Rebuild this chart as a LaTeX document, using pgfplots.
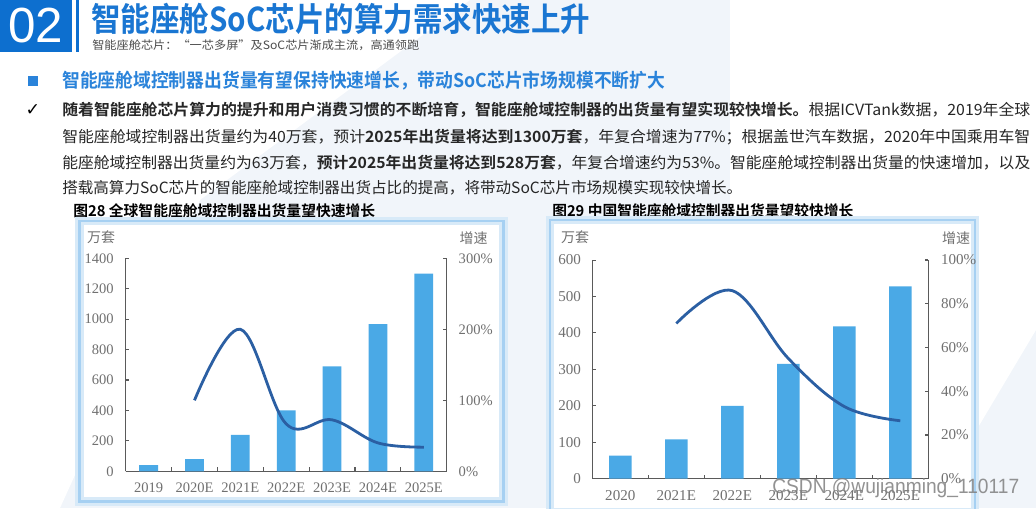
\documentclass[border=0pt]{standalone}
\usepackage{pgfplots}
\pgfplotsset{compat=1.18}
\usepackage{graphicx}
\usepackage{fontspec}
\setmainfont{Liberation Serif}
\newfontfamily\cjk{Noto Sans CJK SC}[BoldFont={Noto Sans CJK SC Bold}]
\newfontfamily\arial{Liberation Sans}
\newfontfamily\dejavu{DejaVu Sans}
\newlength{\pxu}\setlength{\pxu}{0.75pt}
\definecolor{hdrblue}{HTML}{0D6FCF}
\definecolor{ttlblue}{HTML}{1A76D2}
\definecolor{subblue}{HTML}{2A83DA}
\definecolor{barblue}{HTML}{4AA9E6}
\definecolor{linecol}{HTML}{2B5FA3}
\definecolor{axiscol}{HTML}{5A5A5A}
\definecolor{ticklab}{HTML}{707070}
\definecolor{framecol}{HTML}{A6D0F2}
\definecolor{glowcol}{HTML}{D8EAF8}
\definecolor{bg}{HTML}{F1F5FA}
\definecolor{bodytxt}{HTML}{262626}
\pgfplotsset{
  mybase/.style={
    scale only axis,
    /pgf/number format/assume math mode=true,
    /pgf/number format/1000 sep={},
    scaled ticks=false,
    tick label style={font=\fontsize{10.9pt}{12pt}\selectfont, text=ticklab},
    axis line style={draw=axiscol, line width=0.9pt},
    tick style={draw=axiscol, line width=0.8pt},
    tick align=inside,
    major tick length=2.5pt,
    minor tick length=3pt,
  }
}
\begin{document}
\begin{tikzpicture}[x=0.75pt,y=0.75pt]
\useasboundingbox (0,0) rectangle (1036,508);
\coordinate (c1) at (125.7,36.7);
\coordinate (c2) at (592.3,29.3);
\begin{scope}[y=-0.75pt, yshift=381pt]
% background
\fill[bg] (0,0) rectangle (1036,508);
\fill[white] (0,0) -- (470,0) -- (200,200) -- (60,508) -- (0,508) -- cycle;
\fill[white] (730,0) -- (1036,0) -- (1036,330) -- (930,508) -- (730,508) -- cycle;
% header
\fill[hdrblue] (0,0) rectangle (72,52);
\node[anchor=center, inner sep=0, text=white] at (36,26) {\arial\fontsize{37pt}{40pt}\selectfont 02};
\fill[hdrblue] (76,0) rectangle (78.7,52);
\node[anchor=west, inner sep=0, text=ttlblue] at (91,19) {\resizebox{499\pxu}{1.12\height}{\cjk\bfseries\fontsize{22pt}{24pt}\selectfont 智能座舱SoC芯片的算力需求快速上升}};
\node[anchor=west, inner sep=0, text=black!70] at (92,45.5) {\resizebox{327\pxu}{\height}{\cjk\fontsize{8.6pt}{10pt}\selectfont 智能座舱芯片：“一芯多屏”及SoC芯片渐成主流，高通领跑}};
% sub heading
\fill[subblue] (28,76) rectangle (38,86);
\node[anchor=west, inner sep=0, text=subblue] at (62,81) {\resizebox{603\pxu}{1.06\height}{\cjk\bfseries\fontsize{13.5pt}{15pt}\selectfont 智能座舱域控制器出货量有望保持快速增长，带动SoC芯片市场规模不断扩大}};
\node[anchor=center, inner sep=0, text=black] at (33,110) {\dejavu\fontsize{13pt}{14pt}\selectfont ✓};
% body
\node[anchor=west, inner sep=0, text=bodytxt] at (62,110) {\resizebox{968\pxu}{\height}{\cjk\fontsize{11.6pt}{13pt}\selectfont\textbf{随着智能座舱芯片算力的提升和用户消费习惯的不断培育，智能座舱域控制器的出货量有望实现较快增长。}根据ICVTank数据，2019年全球}};
\node[anchor=west, inner sep=0, text=bodytxt] at (62,137) {\resizebox{968\pxu}{\height}{\cjk\fontsize{11.6pt}{13pt}\selectfont 智能座舱域控制器出货量约为40万套，预计\textbf{2025年出货量将达到1300万套}，年复合增速为77\%；根据盖世汽车数据，2020年中国乘用车智}};
\node[anchor=west, inner sep=0, text=bodytxt] at (62,163) {\resizebox{968\pxu}{\height}{\cjk\fontsize{11.6pt}{13pt}\selectfont 能座舱域控制器出货量约为63万套，\textbf{预计2025年出货量将达到528万套}，年复合增速约为53\%。智能座舱域控制器出货量的快速增加，以及}};
\node[anchor=west, inner sep=0, text=bodytxt] at (62,188) {\resizebox{680\pxu}{\height}{\cjk\fontsize{11.6pt}{13pt}\selectfont 搭载高算力SoC芯片的智能座舱域控制器出货占比的提高，将带动SoC芯片市场规模实现较快增长。}};
% chart titles
\node[anchor=west, inner sep=0, text=black] at (73,211) {\resizebox{302\pxu}{\height}{\cjk\bfseries\fontsize{11.2pt}{12pt}\selectfont 图28\ 全球智能座舱域控制器出货量望快速增长}};
\node[anchor=west, inner sep=0, text=black] at (552,211) {\resizebox{301\pxu}{\height}{\cjk\bfseries\fontsize{11.2pt}{12pt}\selectfont 图29\ 中国智能座舱域控制器出货量望较快增长}};
% frames
\draw[glowcol, line width=6.5pt, fill=white] (79.3,221) rectangle (503.3,501.7);
\draw[framecol, line width=2.2pt] (79.3,221) rectangle (503.3,501.7);
\draw[glowcol, line width=6.5pt, fill=white] (550,220) rectangle (975,512);
\draw[framecol, line width=2.2pt] (550,220) rectangle (975,512);
% axis captions
\node[anchor=center, inner sep=0, text=ticklab] at (101,237) {\cjk\fontsize{10.5pt}{12pt}\selectfont 万套};
\node[anchor=center, inner sep=0, text=ticklab] at (473.5,238) {\cjk\fontsize{10.5pt}{12pt}\selectfont 增速};
\node[anchor=center, inner sep=0, text=ticklab] at (575,237) {\cjk\fontsize{10.5pt}{12pt}\selectfont 万套};
\node[anchor=center, inner sep=0, text=ticklab] at (956,238) {\cjk\fontsize{10.5pt}{12pt}\selectfont 增速};
\end{scope}
% chart 1
\begin{axis}[mybase,
  at={(c1)}, anchor=south west,
  width=240.75pt, height=159.75pt,
  xmin=-0.5, xmax=6.5, ymin=0, ymax=1400,
  axis lines*=left,
  ytick={0,200,...,1400},
  xtick={0,...,6},
  xticklabels={2019,2020E,2021E,2022E,2023E,2024E,2025E},
  major x tick style={draw=none},
  minor xtick={0.5,1.5,...,5.5},
  xticklabel style={yshift=-5pt},
  yticklabel style={xshift=-5.5pt},
]
\addplot[ybar, bar width=0.41, fill=barblue, draw=none] coordinates {(0,40) (1,80) (2,240) (3,400) (4,690) (5,968) (6,1300)};
\end{axis}
\begin{axis}[mybase,
  at={(c1)}, anchor=south west,
  width=240.75pt, height=159.75pt,
  xmin=-0.5, xmax=6.5, ymin=0, ymax=300,
  axis y line*=right, axis x line=none,
  ytick={0,100,200,300},
  yticklabels={0\%,100\%,200\%,300\%},
  yticklabel style={xshift=5.5pt},
]
\addplot[smooth, tension=0.6, line width=2.1pt, color=linecol] coordinates {(1,100) (2,200) (3,66.7) (4,72.5) (5,40) (6,34)};
\end{axis}
% chart 2
\begin{scope}
\clip (550,-10) rectangle (975,288);
\begin{axis}[mybase,
  at={(c2)}, anchor=south west,
  width=252pt, height=164pt,
  tick label style={font=\fontsize{11.3pt}{12pt}\selectfont, text=ticklab},
  xmin=-0.5, xmax=5.5, ymin=0, ymax=600,
  axis lines*=left,
  ytick={0,100,...,600},
  xtick={0,...,5},
  xticklabels={2020,2021E,2022E,2023E,2024E,2025E},
  major x tick style={draw=none},
  minor xtick={0.5,1.5,...,4.5},
  xticklabel style={yshift=-5.5pt},
  yticklabel style={xshift=-5pt},
]
\addplot[ybar, bar width=0.4, fill=barblue, draw=none] coordinates {(0,63) (1,108) (2,200) (3,315) (4,418) (5,528)};
\end{axis}
\begin{axis}[mybase,
  at={(c2)}, anchor=south west,
  width=252pt, height=164pt,
  tick label style={font=\fontsize{11.3pt}{12pt}\selectfont, text=ticklab},
  xmin=-0.5, xmax=5.5, ymin=0, ymax=100,
  axis y line*=right, axis x line=none,
  ytick={0,20,...,100},
  yticklabels={0\%,20\%,40\%,60\%,80\%,100\%},
  yticklabel style={xshift=6pt},
]
\addplot[smooth, tension=0.6, line width=2.1pt, color=linecol] coordinates {(1,71) (2,86) (3,55) (4,33) (5,26.5)};
\end{axis}
\end{scope}
% watermark
\node[anchor=west, inner sep=0, text=gray, opacity=0.85] at (772,20) {\resizebox{247\pxu}{\height}{\arial\fontsize{15.5pt}{17pt}\selectfont CSDN @wujianming\_110117}};
\end{tikzpicture}
\end{document}
